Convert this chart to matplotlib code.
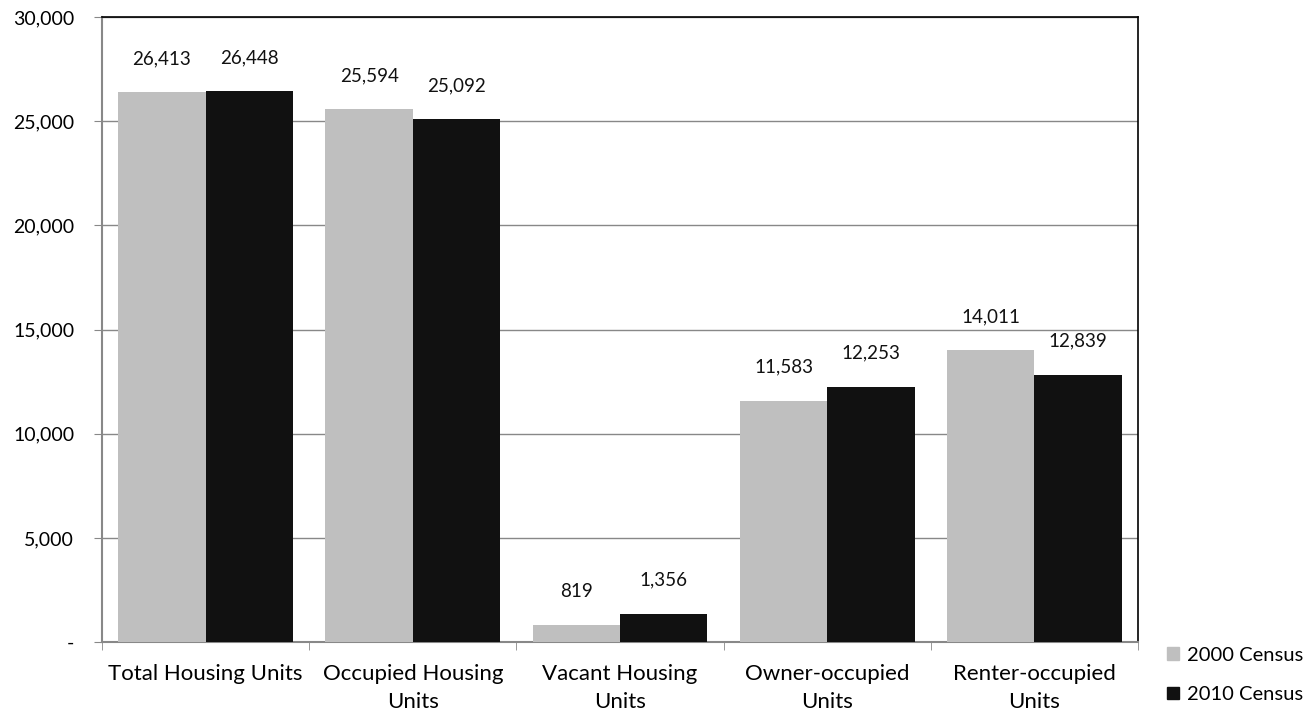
import matplotlib
matplotlib.use("Agg")
import matplotlib.pyplot as plt
import numpy as np
from matplotlib.ticker import FuncFormatter
from matplotlib.patches import Patch

plt.rcParams['font.family'] = ['Lato', 'DejaVu Sans']

categories = ["Total Housing Units", "Occupied Housing\nUnits", "Vacant Housing\nUnits",
              "Owner-occupied\nUnits", "Renter-occupied\nUnits"]
series_names = ["2000 Census", "2010 Census"]
values_2000 = [26413, 25594, 819, 11583, 14011]
values_2010 = [26448, 25092, 1356, 12253, 12839]
colors = ["#bfbfbf", "#111111"]

fig = plt.figure(figsize=(13.08, 7.15), dpi=100)
ax = fig.add_axes([0.078, 0.102, 0.792, 0.874])

x = np.arange(len(categories))
w = 0.422
b1 = ax.bar(x - w/2, values_2000, w, color=colors[0], zorder=3)
b2 = ax.bar(x + w/2, values_2010, w, color=colors[1], zorder=3)

for bars, vals in ((b1, values_2000), (b2, values_2010)):
    for rect, v in zip(bars, vals):
        ax.annotate(f"{v:,}", (rect.get_x() + rect.get_width()/2, v),
                    xytext=(0, 18), textcoords="offset points",
                    ha="center", va="bottom", fontsize=13.5, color="#111111")

ax.set_xlim(-0.5, len(categories) - 0.5)
ax.set_ylim(0, 30000)
ax.set_yticks(np.arange(0, 30001, 5000))
ax.yaxis.set_major_formatter(FuncFormatter(lambda v, p: "-" if v == 0 else f"{int(v):,}"))
ax.set_xticks(x)
ax.set_xticklabels(categories, linespacing=1.5)
ax.set_xticks(np.arange(-0.5, len(categories)), minor=True)
ax.tick_params(axis="x", which="major", length=0, pad=16, labelsize=16)
ax.tick_params(axis="x", which="minor", length=6, color="#888888", direction="out")
ax.tick_params(axis="y", length=6, color="#888888", labelsize=14, pad=14)
ax.yaxis.grid(True, color="#888888", linewidth=1, zorder=0)

ax.spines["left"].set_color("#888888")
ax.spines["bottom"].set_color("#888888")
ax.spines["left"].set_linewidth(1.5)
ax.spines["bottom"].set_linewidth(1.5)
ax.spines["top"].set_color("black")
ax.spines["right"].set_color("black")
ax.spines["top"].set_linewidth(1.2)
ax.spines["right"].set_linewidth(1.2)

handles = [Patch(color=c) for c in colors]
fig.legend(handles, series_names, loc="center left", bbox_to_anchor=(0.878, 0.056),
           frameon=False, fontsize=14.5, handlelength=0.6, handleheight=0.6,
           handletextpad=0.4, labelspacing=1.1)

fig.savefig("out.png", dpi=100)
